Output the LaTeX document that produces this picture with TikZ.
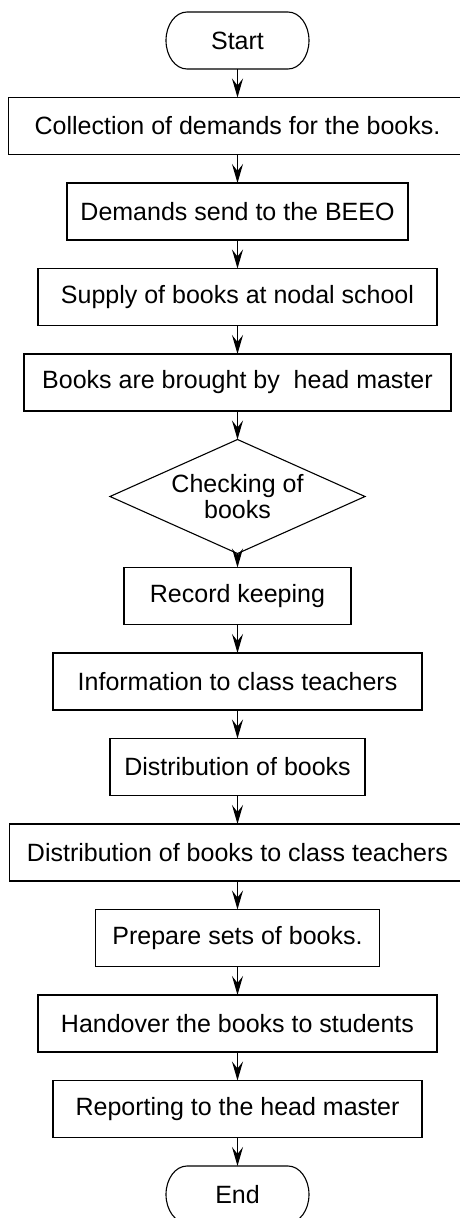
\documentclass[tikz,border=0pt]{standalone}
\usepackage{fontspec}
\setmainfont{Liberation Sans}
\usetikzlibrary{positioning,shapes.geometric,arrows.meta}

\begin{document}
\begin{tikzpicture}[x=1pt,y=1pt,font=\fontsize{25}{26}\selectfont,
main/.style = {draw, rectangle, minimum height=57pt, inner sep=0pt, outer sep=0pt, line width=1.1pt},
term/.style = {minimum width=143pt, minimum height=57pt, inner sep=0pt, outer sep=0pt},
check/.style = {draw, diamond, aspect=2.24, minimum width=255pt, minimum height=114pt, inner sep=0pt, outer sep=0pt, align=center, line width=1.1pt},
node distance={28.5pt},
>={Stealth[length=19pt,width=11pt,inset=7pt]}]
\clip (0,0) rectangle (460,-1218);
\node[term] (1) at (237.5,-40.5) {Start};
\node[main, minimum width=458pt] (2) [below=of 1] {Collection of demands for the books.};
\node[main, minimum width=341pt] (3) [below=of 2] {Demands send to the BEEO};
\node[main, minimum width=399pt] (4) [below=of 3] {Supply of books at nodal school};
\node[main, minimum width=427pt] (5) [below=of 4] {Books are brought by\ \ head master};
\node[check] (6) [below=of 5] {Checking of\\books};
\node[main, minimum width=227pt] (7) [below=14pt of 6] {Record keeping};
\node[main, minimum width=369pt] (8) [below=of 7] {Information to class teachers};
\node[main, minimum width=255pt] (9) [below=of 8] {Distribution of books};
\node[main, minimum width=456pt] (10) [below=of 9] {Distribution of books to class teachers};
\node[main, minimum width=284pt] (11) [below=of 10] {Prepare sets of books.};
\node[main, minimum width=399pt] (12) [below=of 11] {Handover the books to students};
\node[main, minimum width=369pt] (13) [below=of 12] {Reporting to the head master};
\node[term] (14) [below=of 13] {End};
% terminals with elliptic ends
\draw[line width=1.1pt] ([xshift=21pt]1.north west) -- ([xshift=-21pt]1.north east) arc[start angle=90,end angle=-90,x radius=21pt,y radius=28.5pt] -- ([xshift=21pt]1.south west) arc[start angle=270,end angle=90,x radius=21pt,y radius=28.5pt] -- cycle;
\draw[line width=1.1pt] ([xshift=21pt]14.north west) -- ([xshift=-21pt]14.north east) arc[start angle=90,end angle=-90,x radius=21pt,y radius=28.5pt] -- ([xshift=21pt]14.south west) arc[start angle=270,end angle=90,x radius=21pt,y radius=28.5pt] -- cycle;
\draw[->, line width=1.1pt] (1) -- (2);
\draw[->, line width=1.1pt] (2) -- (3);
\draw[->, line width=1.1pt] (3) -- (4);
\draw[->, line width=1.1pt] (4) -- (5);
\draw[->, line width=1.1pt] (5) -- (6);
\draw[->, line width=1.1pt] (6) -- (7);
\draw[->, line width=1.1pt] (7) -- (8);
\draw[->, line width=1.1pt] (8) -- (9);
\draw[->, line width=1.1pt] (9) -- (10);
\draw[->, line width=1.1pt] (10) -- (11);
\draw[->, line width=1.1pt] (11) -- (12);
\draw[->, line width=1.1pt] (12) -- (13);
\draw[->, line width=1.1pt] (13) -- (14);
\end{tikzpicture}
\end{document}
